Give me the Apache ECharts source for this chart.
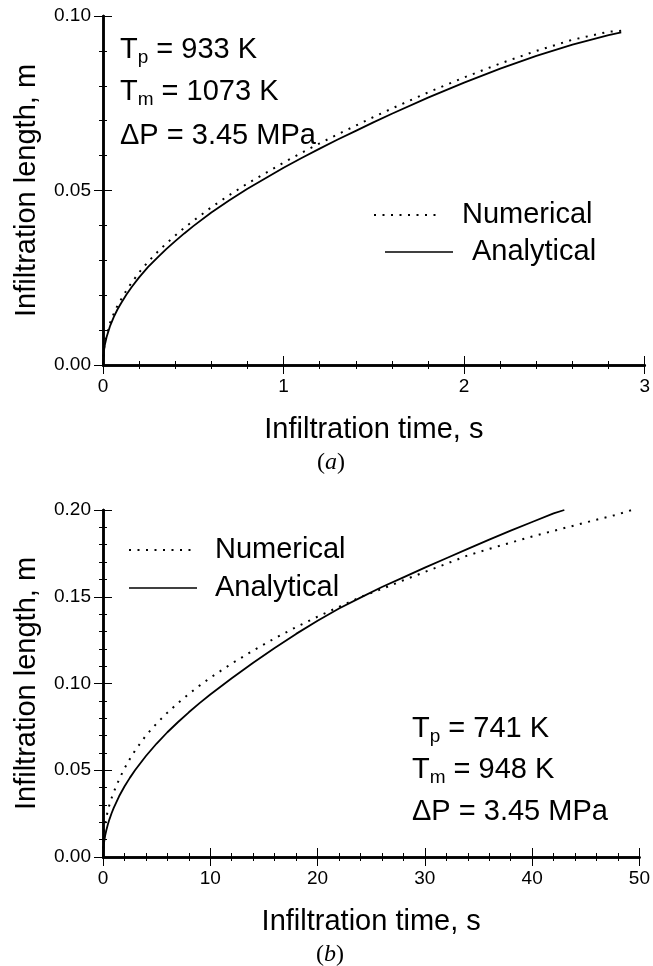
<!DOCTYPE html>
<html>
<head>
<meta charset="utf-8">
<script src="https://cdn.jsdelivr.net/npm/echarts@6/dist/echarts.min.js"></script>
<style>
  html, body { margin: 0; padding: 0; background: #fff; }
  #chart { width: 653px; height: 966px; }
</style>
</head>
<body>
<div id="chart"></div>
<script>
// panel (a): time in s, length in m
var timeAnaA = [0, 0.005, 0.01, 0.02, 0.04, 0.06, 0.08, 0.1, 0.13, 0.16, 0.2, 0.25, 0.3, 0.35, 0.4, 0.45, 0.5, 0.6, 0.7, 0.8, 0.9, 1.0, 1.1, 1.2, 1.3, 1.4, 1.5, 1.6, 1.8, 2.0, 2.2, 2.4, 2.6, 2.8, 2.87];
var analyticalA = [0, 0.004, 0.0057, 0.008, 0.0113, 0.0138, 0.0159, 0.0177, 0.0202, 0.0224, 0.0251, 0.0281, 0.0307, 0.0332, 0.0355, 0.0377, 0.0398, 0.0437, 0.0472, 0.0505, 0.0535, 0.0565, 0.0593, 0.0620, 0.0646, 0.0671, 0.0696, 0.0720, 0.0766, 0.0809, 0.0849, 0.0886, 0.0918, 0.0945, 0.0953];
var timeNumA = [0, 0.005, 0.01, 0.02, 0.04, 0.06, 0.08, 0.1, 0.13, 0.16, 0.2, 0.25, 0.3, 0.35, 0.4, 0.45, 0.5, 0.6, 0.7, 0.8, 0.9, 1.0, 1.1, 1.2, 1.3, 1.4, 1.5, 1.6, 1.8, 2.0, 2.2, 2.4, 2.6, 2.8, 2.88];
var numericalA = [0, 0.0045, 0.0064, 0.0088, 0.0122, 0.0148, 0.0170, 0.0188, 0.0214, 0.0237, 0.0265, 0.0296, 0.0323, 0.0348, 0.0371, 0.0393, 0.0413, 0.0452, 0.0487, 0.0520, 0.0550, 0.0580, 0.0608, 0.0635, 0.0661, 0.0686, 0.0711, 0.0735, 0.0781, 0.0824, 0.0864, 0.0900, 0.0932, 0.0955, 0.0958];

// panel (b)
var timeAnaB = [0, 0.05, 0.1, 0.2, 0.3, 0.45, 0.6, 0.8, 1, 1.5, 2, 2.5, 3, 4, 5, 6, 7, 8, 9, 10, 12, 14, 16, 18, 20, 22, 24, 26, 28, 30, 32, 34, 36, 38, 40, 42, 43];
var analyticalB = [0, 0.006, 0.0085, 0.0123, 0.0151, 0.0187, 0.0217, 0.0252, 0.0283, 0.035, 0.0406, 0.0456, 0.0501, 0.0582, 0.0654, 0.0719, 0.0778, 0.0834, 0.0887, 0.0937, 0.1030, 0.1120, 0.1205, 0.1286, 0.1362, 0.1432, 0.1495, 0.1556, 0.1612, 0.1668, 0.1722, 0.1776, 0.1829, 0.1881, 0.1931, 0.1981, 0.2000];
var timeNumB = [0, 0.03, 0.08, 0.15, 0.3, 0.5, 0.8, 1.2, 1.6, 2, 2.5, 3, 4, 5, 6, 7, 8, 9, 10, 12, 14, 16, 18, 20, 22, 24, 26, 28, 30, 32, 34, 36, 38, 40, 42, 44, 46, 48, 49.3];
var numericalB = [0, 0.009, 0.0135, 0.0175, 0.0225, 0.028, 0.034, 0.0405, 0.046, 0.051, 0.0565, 0.0615, 0.070, 0.077, 0.0832, 0.0888, 0.0940, 0.0988, 0.1033, 0.1115, 0.1190, 0.1260, 0.1325, 0.1385, 0.1442, 0.1498, 0.1545, 0.1595, 0.1643, 0.1690, 0.1738, 0.1776, 0.1812, 0.1847, 0.1880, 0.1912, 0.1944, 0.1975, 0.2000];

// tick labels
var xLabelsA = ['0', '1', '2', '3'];
var yLabelsA = ['0.00', '0.05', '0.10'];
var xLabelsB = ['0', '10', '20', '30', '40', '50'];
var yLabelsB = ['0.00', '0.05', '0.10', '0.15', '0.20'];

var FONT = 'Liberation Sans';
var BIG = 29;

function zip(xs, ys) {
  return xs.map(function (x, i) { return [x, ys[i]]; });
}

// one side of a framed panel; main = the side carrying labels
function makeAxis(grid, pos, max, interval, labels, main, name) {
  var ax = {
    type: 'value',
    gridIndex: grid,
    position: pos,
    min: 0,
    max: max,
    interval: interval,
    splitLine: { show: false },
    axisLine: { show: true, lineStyle: { color: '#000', width: 2.5 } },
    axisTick: { show: true, inside: true, length: 9, lineStyle: { color: '#000', width: 1 } },
    minorTick: { show: true, splitNumber: 5, length: 4, lineStyle: { color: '#000', width: 1 } },
    axisLabel: {
      show: main,
      margin: 12,
      color: '#000',
      fontFamily: FONT,
      fontSize: 19,
      formatter: function (v) { return labels[Math.round(v / interval)]; }
    }
  };
  if (main) {
    ax.name = name;
    ax.nameLocation = 'middle';
    ax.nameTextStyle = { color: '#000', fontFamily: FONT, fontSize: BIG };
    ax.nameGap = (pos === 'bottom') ? 50 : 62;
  }
  return ax;
}

function legendLine(x0, x1, y, dotted) {
  return { type: 'line', shape: { x1: x0, y1: y, x2: x1, y2: y },
    style: dotted ? { stroke: '#000', lineWidth: 2, lineDash: [2, 6.5] } : { stroke: '#000', lineWidth: 1.6 } };
}

function legendText(x, y, txt) {
  return { type: 'text', x: x, y: y,
    style: { text: txt, fill: '#000', font: BIG + 'px "' + FONT + '"', verticalAlign: 'middle', align: 'left' } };
}

var richMain = { fontFamily: FONT, fontSize: BIG, lineHeight: 34, color: '#000' };
var richSub = { fontFamily: FONT, fontSize: 19, lineHeight: 16, color: '#000', verticalAlign: 'bottom' };

function annot(x, y, sym, sub, rest) {
  return { type: 'text', x: x, y: y,
    style: {
      text: '{a|' + sym + '}' + (sub ? '{s|' + sub + '}' : '') + '{a|' + rest + '}',
      rich: { a: richMain, s: richSub },
      verticalAlign: 'middle', align: 'left'
    } };
}

function caption(x, y, letter) {
  return { type: 'text', x: x, y: y,
    style: {
      text: '{p|(}{i|' + letter + '}{p|)}',
      rich: {
        p: { fontFamily: 'Liberation Serif', fontSize: 24, color: '#000' },
        i: { fontFamily: 'Liberation Serif', fontSize: 24, fontStyle: 'italic', color: '#000' }
      },
      verticalAlign: 'middle', align: 'center'
    } };
}

var chart = echarts.init(document.getElementById('chart'), null, { renderer: 'canvas' });

var graphics = [
  legendLine(374, 440, 215, true),
  legendLine(385, 453, 252, false),
  legendText(462, 215, 'Numerical'),
  legendText(472, 252, 'Analytical'),
  legendLine(129, 195, 550, true),
  legendLine(129, 197, 588, false),
  legendText(215, 550, 'Numerical'),
  legendText(215, 588, 'Analytical'),
  annot(120, 50, 'T', 'p', ' = 933 K'),
  annot(120, 92, 'T', 'm', ' = 1073 K'),
  annot(120, 136, '\u0394P', '', ' = 3.45 MPa'),
  annot(412, 729, 'T', 'p', ' = 741 K'),
  annot(412, 770, 'T', 'm', ' = 948 K'),
  annot(412, 812, '\u0394P', '', ' = 3.45 MPa'),
  caption(331, 463, 'a'),
  caption(330, 955, 'b')
];

var solid = { color: '#000', width: 1.8 };
var dots = { color: '#000', width: 2, type: [2, 6.5] };

chart.setOption({
  backgroundColor: '#fff',
  animation: false,
  grid: [
    { left: 103, top: 16, width: 543, height: 349 },
    { left: 103, top: 510, width: 537, height: 347 }
  ],
  xAxis: [
    makeAxis(0, 'bottom', 3, 1, xLabelsA, true, 'Infiltration time, s'),
    makeAxis(0, 'top', 3, 1, xLabelsA, false),
    makeAxis(1, 'bottom', 50, 10, xLabelsB, true, 'Infiltration time, s'),
    makeAxis(1, 'top', 50, 10, xLabelsB, false)
  ],
  yAxis: [
    makeAxis(0, 'left', 0.1, 0.05, yLabelsA, true, 'Infiltration length, m'),
    makeAxis(0, 'right', 0.1, 0.05, yLabelsA, false),
    makeAxis(1, 'left', 0.2, 0.05, yLabelsB, true, 'Infiltration length, m'),
    makeAxis(1, 'right', 0.2, 0.05, yLabelsB, false)
  ],
  series: [
    { name: 'Numerical', type: 'line', xAxisIndex: 0, yAxisIndex: 0, data: zip(timeNumA, numericalA),
      symbol: 'none', lineStyle: dots },
    { name: 'Analytical', type: 'line', xAxisIndex: 0, yAxisIndex: 0, data: zip(timeAnaA, analyticalA),
      symbol: 'none', lineStyle: solid },
    { name: 'Numerical', type: 'line', xAxisIndex: 2, yAxisIndex: 2, data: zip(timeNumB, numericalB),
      symbol: 'none', lineStyle: dots },
    { name: 'Analytical', type: 'line', xAxisIndex: 2, yAxisIndex: 2, data: zip(timeAnaB, analyticalB),
      symbol: 'none', lineStyle: solid }
  ],
  graphic: graphics
});
</script>
</body>
</html>
